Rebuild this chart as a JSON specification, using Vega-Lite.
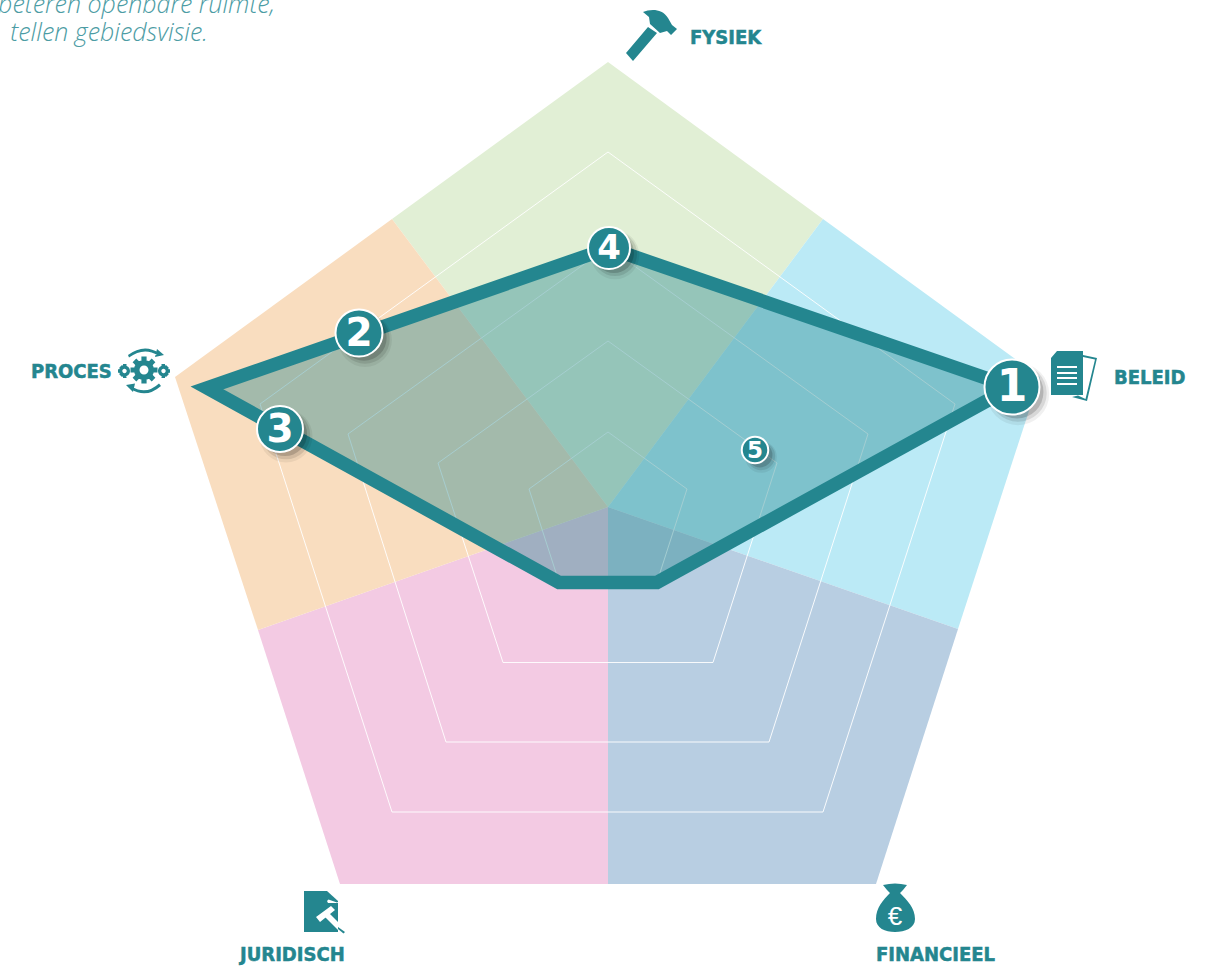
{
"$schema":"https://vega.github.io/schema/vega-lite/v6.json",
"width":1208,"height":966,"padding":0,"autosize":{"type":"none"},
"background":"white",
"config":{"view":{"stroke":null}},
"resolve":{"scale":{"size":"independent"}},
"datasets":{
"sectors":[
{"s":"fysiek","seq":0,"x":0,"y":8.5},{"s":"fysiek","seq":1,"x":-216,"y":296.5},{"s":"fysiek","seq":2,"x":0,"y":453.5},{"s":"fysiek","seq":3,"x":215,"y":296.5},
{"s":"beleid","seq":0,"x":0,"y":8.5},{"s":"beleid","seq":1,"x":215,"y":296.5},{"s":"beleid","seq":2,"x":432,"y":138.5},{"s":"beleid","seq":3,"x":350,"y":-113.5},
{"s":"financieel","seq":0,"x":0,"y":8.5},{"s":"financieel","seq":1,"x":350,"y":-113.5},{"s":"financieel","seq":2,"x":268,"y":-368.5},{"s":"financieel","seq":3,"x":0,"y":-368.5},
{"s":"juridisch","seq":0,"x":0,"y":8.5},{"s":"juridisch","seq":1,"x":0,"y":-368.5},{"s":"juridisch","seq":2,"x":-268,"y":-368.5},{"s":"juridisch","seq":3,"x":-350,"y":-114.5},
{"s":"proces","seq":0,"x":0,"y":8.5},{"s":"proces","seq":1,"x":-350,"y":-114.5},{"s":"proces","seq":2,"x":-433,"y":138.5},{"s":"proces","seq":3,"x":-216,"y":296.5}
],
"rings":[
{"r":1,"seq":0,"x":0,"y":83.5},{"r":1,"seq":1,"x":79,"y":26.5},{"r":1,"seq":2,"x":49,"y":-66.5},{"r":1,"seq":3,"x":-49,"y":-66.5},{"r":1,"seq":4,"x":-79,"y":26.5},{"r":1,"seq":5,"x":0,"y":83.5},
{"r":2,"seq":0,"x":0,"y":174.5},{"r":2,"seq":1,"x":169,"y":52.5},{"r":2,"seq":2,"x":105,"y":-147},{"r":2,"seq":3,"x":-105,"y":-147},{"r":2,"seq":4,"x":-170,"y":52.5},{"r":2,"seq":5,"x":0,"y":174.5},
{"r":3,"seq":0,"x":0,"y":268.5},{"r":3,"seq":1,"x":260,"y":81.5},{"r":3,"seq":2,"x":161,"y":-226.5},{"r":3,"seq":3,"x":-162,"y":-226.5},{"r":3,"seq":4,"x":-260,"y":81.5},{"r":3,"seq":5,"x":0,"y":268.5},
{"r":4,"seq":0,"x":0,"y":363.5},{"r":4,"seq":1,"x":347,"y":111.5},{"r":4,"seq":2,"x":215,"y":-296.5},{"r":4,"seq":3,"x":-216,"y":-296.5},{"r":4,"seq":4,"x":-348,"y":111.5},{"r":4,"seq":5,"x":0,"y":363.5}
],
"score":[
{"axis":"FYSIEK","seq":0,"x":1,"y":267.5},{"axis":"BELEID","seq":1,"x":404,"y":128.5},{"axis":"FINANCIEEL","seq":2,"x":49,"y":-67},{"axis":"JURIDISCH","seq":3,"x":-49,"y":-67},{"axis":"PROCES","seq":4,"x":-401,"y":127.5},{"axis":"FYSIEK","seq":5,"x":1,"y":267.5}
],
"badges":[
{"nr":"1","x":404,"y":128.5},{"nr":"2","x":-249,"y":182.5},{"nr":"3","x":-328,"y":86.5},{"nr":"4","x":1,"y":267.5},{"nr":"5","x":147,"y":65.5}
],
"labels":[
{"t":"FYSIEK","x":82,"y":478.5},{"t":"BELEID","x":506,"y":138.5},{"t":"PROCES","x":-577,"y":144.5},{"t":"JURIDISCH","x":-368,"y":-438.5},{"t":"FINANCIEEL","x":268,"y":-438.5}
],
"icons":[
{"part":"hammer","x":42,"y":480.5},
{"part":"doc","x":466,"y":139.5},{"part":"docLines","x":466,"y":139.5},
{"part":"gear","x":-464,"y":145.5},{"part":"gearHoles","x":-464,"y":145.5},
{"part":"gavelDoc","x":-288,"y":-396.5},{"part":"gavelWhite","x":-288,"y":-396.5},{"part":"gavelHandle","x":-288,"y":-396.5},
{"part":"bag","x":287,"y":-392.5}
],
"euro":[{"t":"€","x":287,"y":-401.5}],
"note":[{"t":"beteren openbare ruimte,","x":-333,"y":511},{"t":"tellen gebiedsvisie.","x":-400,"y":482.5}]
},
"encoding":{
"x":{"field":"x","type":"quantitative","axis":null,"scale":{"domain":[-608,600],"nice":false,"zero":false}},
"y":{"field":"y","type":"quantitative","axis":null,"scale":{"domain":[-450.5,515.5],"nice":false,"zero":false}}
},
"layer":[
{"data":{"name":"sectors"},"transform":[{"filter":"datum.s==='fysiek'"}],"mark":{"type":"line","fill":"#E1EFD5","stroke":null,"strokeWidth":0},"encoding":{"order":{"field":"seq","type":"quantitative"}}},
{"data":{"name":"sectors"},"transform":[{"filter":"datum.s==='beleid'"}],"mark":{"type":"line","fill":"#BBEAF6","stroke":null,"strokeWidth":0},"encoding":{"order":{"field":"seq","type":"quantitative"}}},
{"data":{"name":"sectors"},"transform":[{"filter":"datum.s==='financieel'"}],"mark":{"type":"line","fill":"#B8CEE2","stroke":null,"strokeWidth":0},"encoding":{"order":{"field":"seq","type":"quantitative"}}},
{"data":{"name":"sectors"},"transform":[{"filter":"datum.s==='juridisch'"}],"mark":{"type":"line","fill":"#F3CAE3","stroke":null,"strokeWidth":0},"encoding":{"order":{"field":"seq","type":"quantitative"}}},
{"data":{"name":"sectors"},"transform":[{"filter":"datum.s==='proces'"}],"mark":{"type":"line","fill":"#F9DDBF","stroke":null,"strokeWidth":0},"encoding":{"order":{"field":"seq","type":"quantitative"}}},
{"data":{"name":"rings"},"mark":{"type":"line","stroke":"#FFFFFF","strokeWidth":1,"strokeJoin":"miter","strokeOpacity":0.9},"encoding":{"detail":{"field":"r","type":"nominal"},"order":{"field":"seq","type":"quantitative"}}},
{"data":{"name":"score"},"mark":{"type":"line","fill":"#24868F","fillOpacity":0.4,"stroke":"#24868F","strokeWidth":13.5,"strokeJoin":"miter","strokeMiterLimit":10},"encoding":{"order":{"field":"seq","type":"quantitative"}}},
{"data":{"name":"badges"},"mark":{"type":"point","filled":true,"color":"#000000","opacity":0.06,"strokeWidth":0,"xOffset":6,"yOffset":7},"encoding":{"size":{"field":"nr","type":"ordinal","legend":null,"scale":{"type":"ordinal","domain":["1","2","3","4","5"],"range":[3900,2900,2800,2350,1000]}}}},
{"data":{"name":"badges"},"mark":{"type":"point","filled":true,"color":"#000000","opacity":0.1,"strokeWidth":0,"xOffset":6,"yOffset":6},"encoding":{"size":{"field":"nr","type":"ordinal","legend":null,"scale":{"type":"ordinal","domain":["1","2","3","4","5"],"range":[3300,2450,2350,1950,800]}}}},
{"data":{"name":"badges"},"mark":{"type":"point","filled":true,"color":"#000000","opacity":0.16,"strokeWidth":0,"xOffset":5,"yOffset":5},"encoding":{"size":{"field":"nr","type":"ordinal","legend":null,"scale":{"type":"ordinal","domain":["1","2","3","4","5"],"range":[2800,2050,1950,1600,620]}}}},
{"data":{"name":"badges"},"mark":{"type":"point","filled":true,"fill":"#24868F","stroke":"#FFFFFF","strokeWidth":2,"opacity":1},"encoding":{"size":{"field":"nr","type":"ordinal","legend":null,"scale":{"type":"ordinal","domain":["1","2","3","4","5"],"range":[3025,2209,2116,1764,702]}}}},
{"data":{"name":"badges"},"mark":{"type":"text","font":"DejaVu Sans","fontWeight":"bold","fill":"#FFFFFF","align":"center","baseline":"middle","dy":1},"encoding":{"text":{"field":"nr","type":"nominal"},"size":{"field":"nr","type":"ordinal","legend":null,"scale":{"type":"ordinal","domain":["1","2","3","4","5"],"range":[44,39,39,34,23]}}}},
{"data":{"name":"icons"},"mark":{"type":"point","filled":true,"opacity":1,"size":4,"strokeWidth":0},"encoding":{
"color":{"field":"part","type":"nominal","legend":null,"scale":{"domain":["hammer","doc","docLines","gear","gearHoles","gavelDoc","gavelWhite","gavelHandle","bag"],"range":["#24868F","#24868F","#FFFFFF","#24868F","#FFFFFF","#24868F","#FFFFFF","#24868F","#24868F"]}},
"shape":{"field":"part","type":"nominal","legend":null,"scale":{"domain":["hammer","doc","docLines","gear","gearHoles","gavelDoc","gavelWhite","gavelHandle","bag"],"range":[
"M-24,18L-17,26L7,-2L-2,-8ZM-7,-23C0,-26,12,-27,18,-17L22,-10L27,-6L21,0L17,-4L10,-2L0,-11L-1,-18Z",
"M-23,-18L-17,-25L9,-25L9,19L-23,19ZM9,-21L23,-18L13,25L-2,21L4,19.5L11.5,23L21,-16.5L9,-19Z",
"M-17,-10H3V-8H-17ZM-17,-4H3V-2H-17ZM-17,1H3V3H-17ZM-17,7H3V9H-17Z",
"M-10,0A10,10,0,1,1,10,0A10,10,0,1,1,-10,0ZM-2.6,-13.5H2.6V-9H-2.6ZM-2.6,9H2.6V13.5H-2.6ZM-13.5,-2.6H-9V2.6H-13.5ZM9,-2.6H13.5V2.6H9ZM7.7,-11.4L11.4,-7.7L8,-4.3L4.3,-8ZM11.4,7.7L7.7,11.4L4.3,8L8,4.3ZM-7.7,11.4L-11.4,7.7L-8,4.3L-4.3,8ZM-11.4,-7.7L-7.7,-11.4L-4.3,-8L-8,-4.3ZM14,1A5.5,5.5,0,1,1,25,1A5.5,5.5,0,1,1,14,1ZM17.5,-6H21V-3H17.5ZM17.5,5H21V8H17.5ZM23,-0.8H26V2.8H23ZM22,-5L24.8,-2.2L22.5,-0.5L20,-3ZM24.8,4.2L22,7L20,5L22.5,2.5ZM-25,1A5.5,5.5,0,1,1,-14,1A5.5,5.5,0,1,1,-25,1ZM-21,-6H-17.5V-3H-21ZM-21,5H-17.5V8H-21ZM-26,-0.8H-23V2.8H-26ZM-24.8,-2.2L-22,-5L-20,-3L-22.5,-0.5ZM-22,7L-24.8,4.2L-22.5,2.5L-20,5ZM-16,-15Q0,-27,15,-17L14,-14.5Q0,-23.5,-15,-12.5ZM13,-21L20,-15L11,-13ZM17,16Q2,29,-13,19L-12,16.5Q2,25.5,15,13.5ZM-18,15L-9,13.5L-11,22Z",
"M-4.5,0A4.5,4.5,0,1,1,4.5,0A4.5,4.5,0,1,1,-4.5,0ZM17.3,1A2.2,2.2,0,1,1,21.7,1A2.2,2.2,0,1,1,17.3,1ZM-21.7,1A2.2,2.2,0,1,1,-17.3,1A2.2,2.2,0,1,1,-21.7,1Z",
"M-16,-21H7L18,-11V20H-16Z",
"M-4,5L11,-6L15,-2L0,10ZM7,-11L8.5,-12.5L17,-9.5L18,-10V-9L8,-9ZM5,5L9,1L27,19L23,23Z",
"M18,15L25,20L23.5,21.5L18,17Z",
"M-12,-23Q0,-26,12,-23L8,-18L5,-15C12,-8,20,0,20,11C20,20,10,24,0,24C-10,24,-19,20,-19,11C-19,0,-12,-8,-5,-15L-8,-18Z"
]}}
}},
{"data":{"name":"euro"},"mark":{"type":"text","font":"Liberation Sans","fontSize":26,"fill":"#FFFFFF","align":"center","baseline":"middle"},"encoding":{"text":{"field":"t","type":"nominal"}}},
{"data":{"name":"labels"},"mark":{"type":"text","font":"DejaVu Sans Condensed","fontWeight":"bold","fontSize":20,"fill":"#24868F","stroke":"#24868F","strokeWidth":0.5,"align":"left","baseline":"middle","dy":1},"encoding":{"text":{"field":"t","type":"nominal"}}},
{"data":{"name":"note"},"mark":{"type":"text","font":"Open Sans","fontStyle":"italic","fontWeight":300,"fontSize":25,"fill":"#4C9CA4","align":"right","baseline":"middle"},"encoding":{"text":{"field":"t","type":"nominal"}}}
]
}
